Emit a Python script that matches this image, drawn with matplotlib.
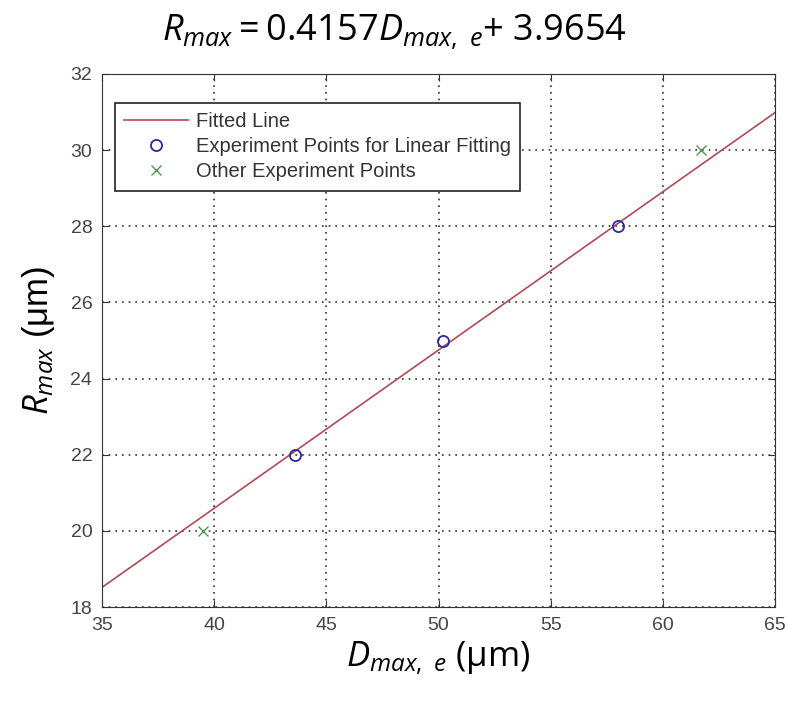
import numpy as np
import matplotlib
matplotlib.use('Agg')
import matplotlib.pyplot as plt

# Coeficientes del ajuste lineal
slope = 0.4157
intercept = 3.9654

# Puntos usados en el ajuste
fit_d = [43.6, 50.2, 58.0]
fit_r = [22.0, 25.0, 28.0]

# Otros puntos experimentales
other_d = [39.5, 61.7]
other_r = [20.0, 30.0]

x_ticks = [35, 40, 45, 50, 55, 60, 65]
y_ticks = [18, 20, 22, 24, 26, 28, 30, 32]

plt.rcParams['mathtext.fontset'] = 'custom'
plt.rcParams['mathtext.rm'] = 'Open Sans'
plt.rcParams['mathtext.it'] = 'Open Sans:italic'

fig = plt.figure(figsize=(7.88, 7.04), dpi=100)
ax = fig.add_axes([102 / 788, 1 - 607 / 704, 673 / 788, 533 / 704])

xs = np.array([35, 65])
ax.plot(xs, slope * xs + intercept, color='#b04a55', lw=1.2, label='Fitted Line')
ax.plot(fit_d, fit_r, 'o', mfc='none', mec='#2a2a9a', ms=8, mew=1.3,
        label='Experiment Points for Linear Fitting')
ax.plot(other_d, other_r, 'x', color='#4f9a4f', ms=7, mew=1.0,
        label='Other Experiment Points')

ax.set_xlim(35, 65)
ax.set_ylim(18, 32)
ax.set_xticks(x_ticks)
ax.set_yticks(y_ticks)
ax.grid(True, linestyle=(0, (1, 3)), color='#333333', lw=1.2)
ax.tick_params(direction='in', top=True, right=True, length=5, pad=7,
               labelsize=14, labelcolor='#444444', color='#333333')
for lab in ax.get_xticklabels() + ax.get_yticklabels():
    lab.set_family('Liberation Sans')
for s in ax.spines.values():
    s.set_color('#333333')

leg = ax.legend(loc='upper left', bbox_to_anchor=(0.019, 0.945), fancybox=False,
                edgecolor='#222222', framealpha=1, borderaxespad=0,
                prop={'family': 'Liberation Sans', 'size': 14.5}, handlelength=3.2,
                labelspacing=0.3, borderpad=0.45, handletextpad=0.4)
leg.get_frame().set_linewidth(1.2)
for t in leg.get_texts():
    t.set_color('#333333')

fig.text(0.5, 0.955, r'$R_{max} = 0.4157D_{max,\ e}$+ 3.9654', ha='center', va='center',
         fontsize=26, family='Open Sans')
ax.set_xlabel(r'$D_{max,\ e}$ (μm)', fontsize=25, family='Open Sans', labelpad=4)
ax.set_ylabel(r'$R_{max}$ (μm)', fontsize=25, family='Liberation Sans', labelpad=10)

fig.savefig('out.png', dpi=100)
